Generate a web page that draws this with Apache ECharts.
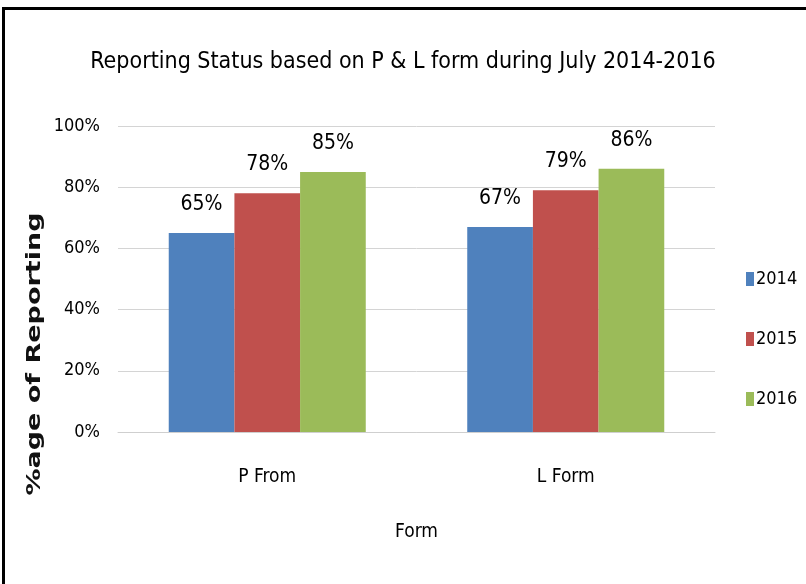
<!DOCTYPE html>
<html>
<head>
<meta charset="utf-8">
<script src="https://cdn.jsdelivr.net/npm/echarts@6/dist/echarts.min.js"></script>
<style>
html,body{margin:0;padding:0;background:#fff;}
#chart{width:806px;height:584px;}
</style>
</head>
<body>
<div id="chart"></div>
<script>
const categories = ["P From", "L Form"];
const seriesNames = ["2014", "2015", "2016"];
const values2014 = [65, 67];
const values2015 = [78, 79];
const values2016 = [85, 86];
const yTicks = [0, 20, 40, 60, 80, 100];
const colors = ["#4F81BD", "#C0504D", "#9BBB59"];
const yAxisTitle = '%age of Reporting';
const xAxisTitle = 'Form';
const chartTitle = 'Reporting Status based on P & L form during July 2014-2016';

const FONT = '"DejaVu Sans Condensed", sans-serif';
const chart = echarts.init(document.getElementById('chart'), null, {renderer: 'canvas'});
const allValues = [values2014, values2015, values2016];

chart.setOption({
  animation: false,
  backgroundColor: '#fff',
  title: {
    text: chartTitle,
    left: 'center',
    top: 46,
    textStyle: {fontFamily: FONT, fontSize: 23, fontWeight: 'normal', color: '#000'}
  },
  legend: {
    orient: 'vertical',
    left: 741,
    top: 265,
    itemGap: 42,
    itemWidth: 8,
    itemHeight: 14,
    icon: 'rect',
    textStyle: {fontFamily: FONT, fontSize: 18, color: '#000', padding: [0, 0, 0, -3]},
    data: seriesNames
  },
  grid: {left: 118, right: 91, top: 126, bottom: 152},
  xAxis: {
    type: 'category',
    data: categories,
    name: xAxisTitle,
    nameLocation: 'middle',
    nameGap: 91,
    nameTextStyle: {fontFamily: FONT, fontSize: 19, color: '#000'},
    axisTick: {show: false},
    axisLine: {lineStyle: {color: '#cfcfcf', width: 1}},
    axisLabel: {fontFamily: FONT, fontSize: 19, color: '#000', margin: 36}
  },
  yAxis: {
    type: 'value',
    min: 0,
    max: 100,
    interval: 20,
    axisLine: {show: false},
    axisTick: {show: false},
    splitLine: {lineStyle: {color: '#d4d4d4', width: 1}},
    axisLabel: {
      fontFamily: FONT, fontSize: 18, color: '#000', margin: 18,
      formatter: function (v) { return yTicks.indexOf(v) >= 0 ? v + '%' : ''; }
    }
  },
  series: seriesNames.map(function (name, i) {
    return {
      name: name,
      type: 'bar',
      data: allValues[i],
      barGap: '0%',
      barCategoryGap: '34%',
      itemStyle: {color: colors[i]},
      label: {
        show: true,
        position: 'top',
        distance: 18,
        formatter: '{c}%',
        fontFamily: FONT,
        fontSize: 21,
        color: '#000'
      }
    };
  }),
  graphic: [{
    type: 'rect',
    shape: {x: 3.5, y: 8.5, width: 1000, height: 1000},
    style: {fill: 'none', stroke: '#000', lineWidth: 3},
    silent: true
  }, {
    type: 'text',
    x: 35,
    y: 354,
    rotation: Math.PI / 2,
    scaleX: 1.35,
    silent: true,
    style: {
      text: yAxisTitle,
      textAlign: 'center',
      textVerticalAlign: 'middle',
      fill: '#111',
      font: 'bold 20px "DejaVu Sans", sans-serif'
    }
  }]
});
</script>
</body>
</html>
